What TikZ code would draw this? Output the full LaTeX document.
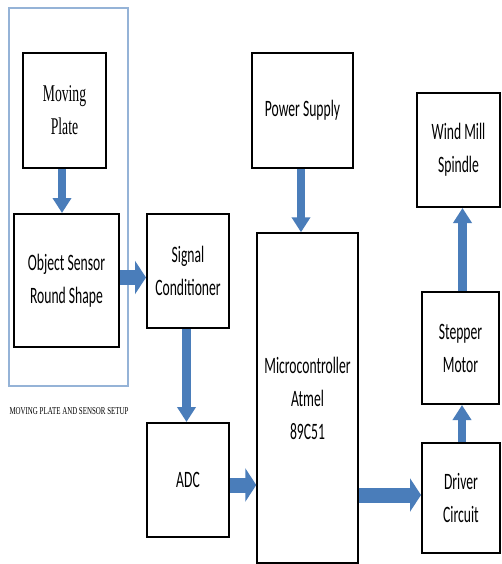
\documentclass[tikz,border=0pt]{standalone}
\usepackage{fontspec}
\usetikzlibrary{arrows.meta}
\newfontfamily\calib{Carlito}[FakeStretch=0.58]
\newfontfamily\tnr{Liberation Serif}[FakeStretch=0.57]
\newfontfamily\tnrlab{Liberation Serif}[FakeStretch=0.66]
\definecolor{arrblue}{RGB}{74,125,186}
\definecolor{frameblue}{RGB}{149,179,215}
\tikzset{
  blk/.style={draw=black, line width=2pt, fill=white, align=center, inner sep=0pt,
    font=\calib\fontsize{23.5}{33}\selectfont},
  varrow/.style={draw=arrblue, line width=8.5pt, -{Triangle[width=18pt,length=15pt]}},
  harrow/.style={draw=arrblue, line width=15pt, -{Triangle[width=33pt,length=11pt]}},
}
\begin{document}
\begin{tikzpicture}[x=1pt,y=-1pt]
\useasboundingbox[fill=white] (0,0) rectangle (501,564);
% setup frame
\draw[frameblue, line width=1.3pt] (9,8) rectangle (128,386);
\node[font=\tnrlab\fontsize{10.5}{12}\selectfont] (lab) at (69,411) {MOVING PLATE AND SENSOR SETUP};
% boxes
\node[blk, minimum width=83pt, minimum height=115pt, font=\tnr\fontsize{24}{33}\selectfont] (mp) at (64.5,110.5) {Moving\\Plate};
\node[blk, minimum width=105pt, minimum height=133pt] (os) at (66.5,280.5) {Object Sensor\\Round Shape};
\node[blk, minimum width=82pt, minimum height=114pt] (sc) at (188,271) {Signal\\Conditioner};
\node[blk, minimum width=82pt, minimum height=114pt] (adc) at (188,480) {ADC};
\node[blk, minimum width=101pt, minimum height=115pt] (ps) at (302.5,110.5) {Power Supply};
\node[blk, line width=1.4pt, minimum width=101pt, minimum height=330pt] (mc) at (307.5,398) {Microcontroller\\Atmel\\89C51};
\node[blk, minimum width=83pt, minimum height=114pt] (ws) at (458.5,150) {Wind Mill\\Spindle};
\node[blk, minimum width=77pt, minimum height=112pt] (sm) at (460.5,348) {Stepper\\Motor};
\node[blk, minimum width=78pt, minimum height=110pt] (dc) at (461,498) {Driver\\Circuit};
% arrows
\draw[varrow] ([xshift=-2.5pt]mp.south) -- ([xshift=-2.5pt]mp.south |- os.north);
\draw[harrow] ([yshift=3pt]os.east) -- ([yshift=3pt]os.east -| sc.west);
\draw[varrow] ([xshift=-1.5pt]sc.south) -- ([xshift=-1.5pt]sc.south |- adc.north);
\draw[harrow] ([yshift=-5pt]adc.east) -- ([yshift=-5pt]adc.east -| mc.west);
\draw[varrow] ([xshift=-1.5pt]ps.south) -- ([xshift=-1.5pt]ps.south |- mc.north);
\draw[harrow] ([yshift=3pt]dc.west -| mc.east) -- ([yshift=3pt]dc.west);
\draw[varrow] ([xshift=1pt]dc.north) -- ([xshift=1pt]dc.north |- sm.south);
\draw[varrow] ([xshift=2pt]sm.north) -- ([xshift=2pt]sm.north |- ws.south);
\end{tikzpicture}
\end{document}
